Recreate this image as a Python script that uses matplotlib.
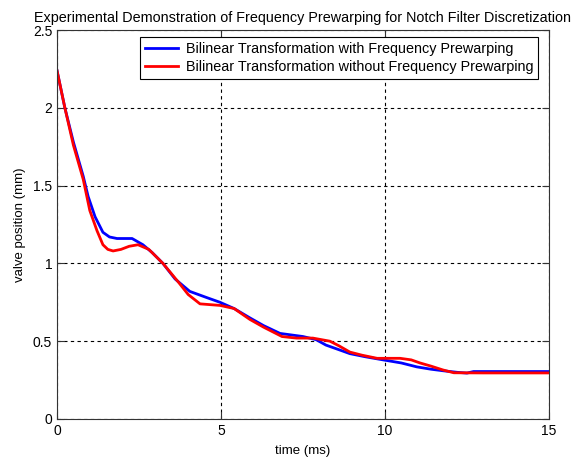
import matplotlib
matplotlib.use("Agg")
import matplotlib.pyplot as plt
import numpy as np

plt.rcParams['font.family'] = ['Liberation Sans', 'DejaVu Sans']

# time (ms) and valve position (mm)
t_with = [0.0, 0.24, 0.5, 0.8, 0.95, 1.16, 1.4, 1.6, 1.83, 2.05, 2.29, 2.62, 2.9, 3.23, 3.6,
          4.05, 4.57, 4.97, 5.4, 5.88, 6.3, 6.8, 7.5, 7.9, 8.2, 8.6, 8.93, 9.4, 9.94, 10.5,
          10.97, 11.4, 11.77, 12.2, 12.5, 12.7, 13.5, 15.0]
y_with = [2.24, 2.0, 1.78, 1.56, 1.43, 1.3, 1.2, 1.17, 1.16, 1.16, 1.16, 1.12, 1.07, 1.0, 0.9,
          0.82, 0.78, 0.75, 0.71, 0.65, 0.6, 0.55, 0.53, 0.51, 0.475, 0.445, 0.42, 0.4, 0.38, 0.36,
          0.335, 0.32, 0.31, 0.30, 0.295, 0.305, 0.305, 0.305]

t_without = [0.0, 0.24, 0.5, 0.8, 1.0, 1.22, 1.4, 1.55, 1.71, 1.95, 2.2, 2.47, 2.8, 3.23, 3.7,
             4.0, 4.36, 4.97, 5.4, 5.88, 6.3, 6.86, 7.3, 7.8, 8.32, 8.6, 8.93, 9.3, 9.76, 10.46,
             10.8, 11.07, 11.4, 11.77, 12.1, 13.0, 15.0]
y_without = [2.24, 2.0, 1.76, 1.54, 1.34, 1.21, 1.12, 1.09, 1.08, 1.09, 1.11, 1.12, 1.09, 1.0, 0.88,
             0.8, 0.74, 0.73, 0.71, 0.64, 0.59, 0.53, 0.52, 0.52, 0.5, 0.47, 0.43, 0.41, 0.39, 0.39,
             0.38, 0.36, 0.34, 0.315, 0.297, 0.296, 0.296]

fig = plt.figure(figsize=(5.74, 4.62), dpi=100)
ax = fig.add_axes([0.0993, 0.0931, 0.8571, 0.8419])

ax.plot(t_with, y_with, color='blue', lw=2,
        label='Bilinear Transformation with Frequency Prewarping')
ax.plot(t_without, y_without, color='red', lw=2,
        label='Bilinear Transformation without Frequency Prewarping')

ax.set_xlim(0, 15)
ax.set_ylim(0, 2.5)
ax.set_xticks([0, 5, 10, 15])
ax.set_yticks([0, 0.5, 1, 1.5, 2, 2.5])
ax.set_yticklabels(['0', '0.5', '1', '1.5', '2', '2.5'])
ax.grid(True, color='black', linestyle=(0, (3, 3)), linewidth=0.8)
ax.tick_params(direction='in', top=True, right=True, labelsize=10, length=5, colors='#333333',
               labelcolor='black')
for s in ax.spines.values():
    s.set_color('#333333')

ax.set_xlabel('time (ms)', fontsize=9.5, labelpad=5)
ax.set_ylabel('valve position (mm)', fontsize=9.5, labelpad=5)
ax.set_title('Experimental Demonstration of Frequency Prewarping for Notch Filter Discretization',
             fontsize=10.4, pad=6)

leg = ax.legend(loc='upper right', bbox_to_anchor=(0.978, 0.982), fontsize=10.4, fancybox=False,
                framealpha=1, edgecolor='black', borderpad=0.35, labelspacing=0.25,
                handlelength=2.3, handletextpad=0.5, borderaxespad=0)
leg.get_frame().set_linewidth(0.8)

fig.savefig('out.png', dpi=100)
